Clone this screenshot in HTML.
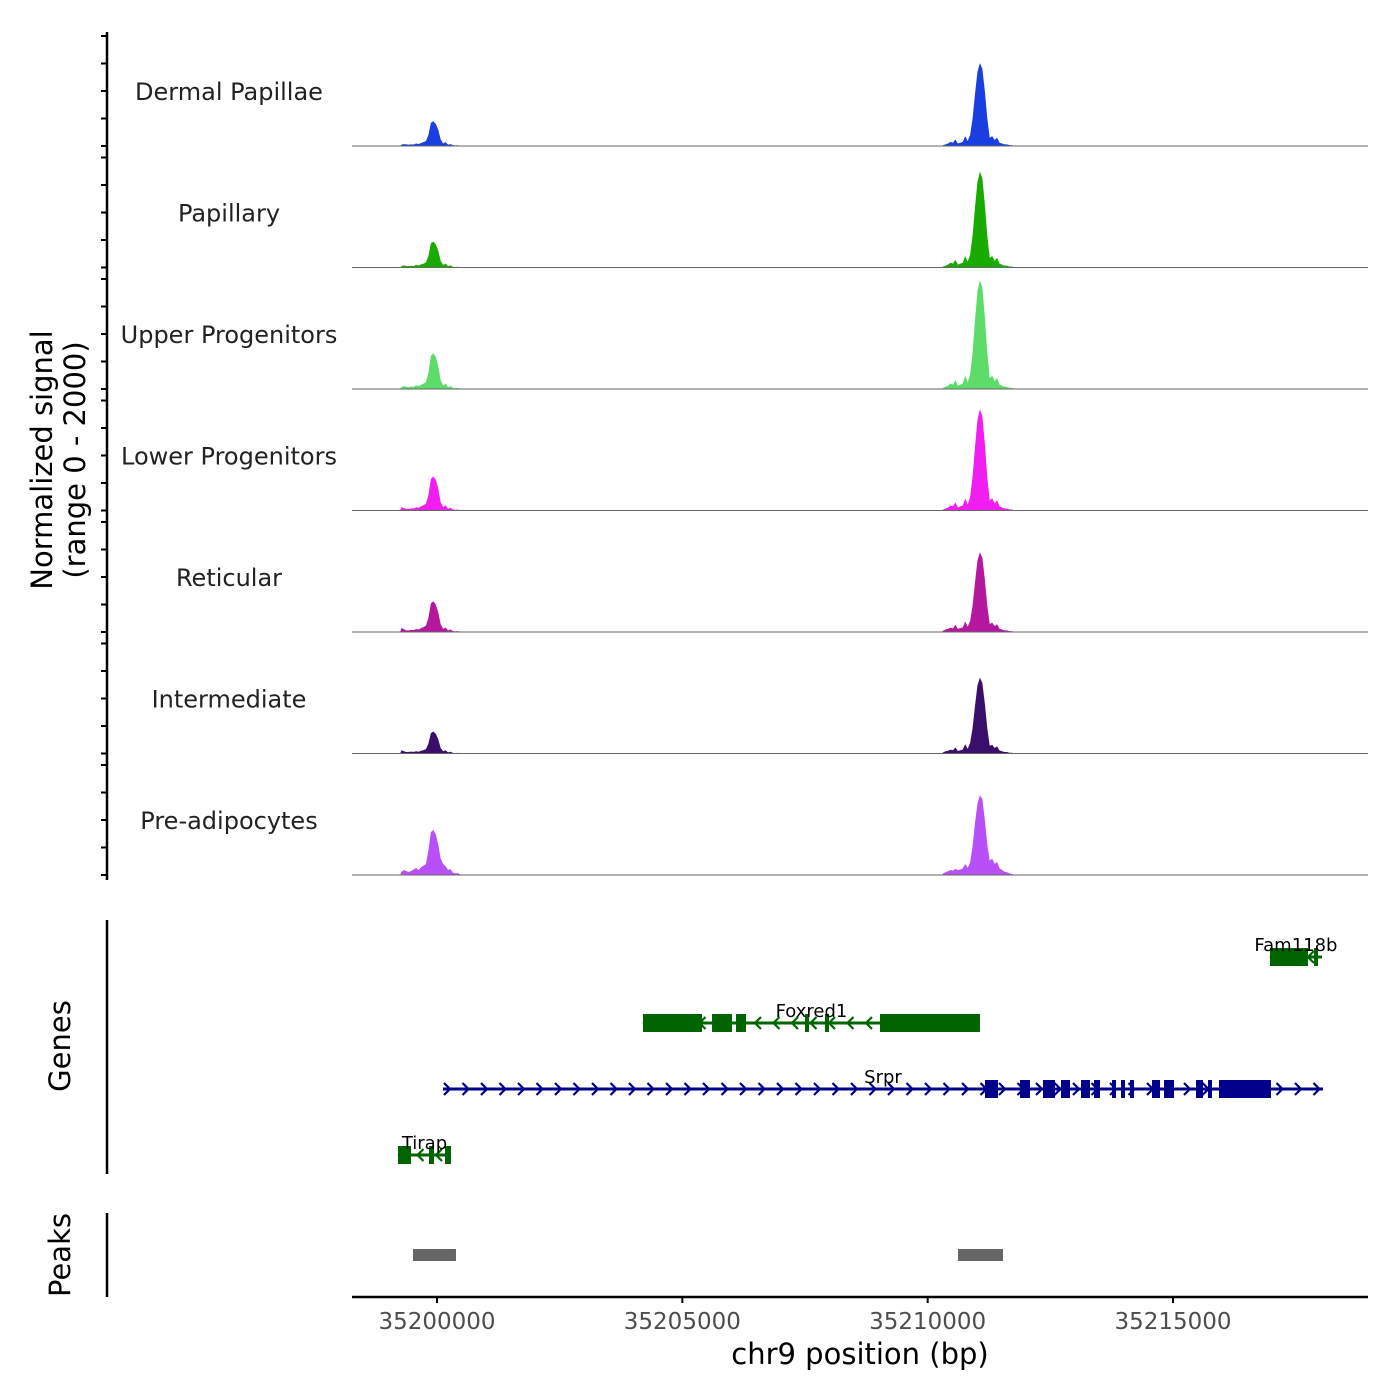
<!DOCTYPE html>
<html><head><meta charset="utf-8">
<style>
html,body{margin:0;padding:0;background:#fff;}
svg{display:block;font-family:"DejaVu Sans","Liberation Sans",sans-serif;}
</style></head>
<body>
<svg id="chart" width="1400" height="1400" viewBox="0 0 1400 1400">
<g id="tracks"></g>
<g id="genes"></g>
<g id="peaks"></g>
<g id="axes"></g>
</svg>
<script>
const trackNames = ["Dermal Papillae","Papillary","Upper Progenitors","Lower Progenitors","Reticular","Intermediate","Pre-adipocytes"];
const trackColors = ["#1a3fe0","#1aab00","#5ddc6a","#f01ef0","#b5179e","#3a0f6b","#b84ff7"];
const smallStart = 35199250, bigStart = 35210290, binSize = 50;
const smallVals = [
 [25,35,30,25,30,28,45,36,55,70,90,200,420,450,400,300,120,45,70,25,35,15,10,14,5],
 [24,38,28,24,33,28,47,38,56,70,94,210,440,470,420,310,120,47,70,24,38,14,9,14,5],
 [32,52,39,32,45,39,65,52,78,98,130,290,600,650,585,420,160,65,98,32,52,20,13,20,6],
 [60,45,30,28,40,36,60,50,75,95,125,280,570,620,560,400,150,62,95,30,50,19,12,18,6],
 [75,50,30,30,38,34,55,45,70,88,115,260,520,560,500,360,140,56,85,28,45,17,11,17,5],
 [60,40,28,30,35,30,40,32,50,62,80,180,370,400,360,260,100,40,60,20,32,12,8,12,4],
 [60,90,70,55,75,100,130,90,140,170,200,450,780,820,740,560,300,200,160,90,110,40,30,35,10]
];
const bigVals = [
 [15,30,45,75,60,120,45,60,75,180,90,200,500,950,1350,1510,1400,1000,500,150,180,110,150,60,45,30,30,15,15,0],
 [17,35,52,87,70,140,52,70,87,210,105,230,580,1100,1560,1745,1620,1150,580,175,210,120,175,70,52,35,35,17,17,0],
 [20,40,60,100,80,160,60,80,100,240,120,260,660,1250,1780,1980,1840,1310,660,200,240,140,200,80,60,40,40,20,20,0],
 [18,37,55,92,74,148,55,74,92,220,110,245,610,1160,1650,1840,1710,1220,610,185,220,130,185,74,55,37,37,18,18,0],
 [25,45,60,80,65,130,60,70,85,190,95,200,480,910,1300,1450,1350,960,480,145,170,110,140,60,45,30,30,15,15,0],
 [20,40,50,70,60,110,45,60,70,170,85,190,460,870,1240,1380,1280,910,460,140,160,100,130,55,40,28,28,14,14,0],
 [30,50,70,90,80,110,90,100,120,200,130,230,520,950,1300,1450,1380,1000,560,260,300,200,240,120,90,60,50,30,20,0]
];
const geneNames = ["Tirap","Foxred1","Srpr","Fam118b"];
const geneStrand = ["-","-","+","-"];
const geneRow = [3,1,2,0];
const geneColor = ["#006400","#006400","#00008b","#006400"];
const geneStart = [35199205,35204198,35200122,35216976];
const geneEnd = [35200285,35211066,35218057,35218036];
const geneExons = [
 [[35199205,35199470],[35199837,35199939],[35200163,35200285]],
 [[35204198,35205401],[35205605,35206012],[35206094,35206298],[35207500,35207561],[35207907,35207989],[35209028,35211066]],
 [[35211168,35211433],[35211882,35212085],[35212350,35212595],[35212717,35212901],[35213125,35213308],[35213390,35213512],[35213757,35213818],[35213940,35214021],[35214123,35214205],[35214572,35214735],[35214817,35215021],[35215469,35215611],[35215713,35215795],[35215937,35216997]],
 [[35216976,35217751],[35217874,35217915]]
];
const peakStart = [35199511,35210618];
const peakEnd = [35200387,35211535];
const xTicks = [35200000,35205000,35210000,35215000];

const NS="http://www.w3.org/2000/svg";
function mk(tag,attrs,parent){const e=document.createElementNS(NS,tag);for(const k in attrs)e.setAttribute(k,attrs[k]);parent.appendChild(e);return e;}
const xScale = bp => 437 + (bp-35200000)*0.049067;
const baseY = i => 146 + i*121.5;
const yScale = (v,i) => baseY(i) - v/2000*110;
const X0=352, X1=1368;

const tg=document.getElementById('tracks');
trackNames.forEach((name,i)=>{
  const g=mk('g',{},tg);
  
  
  const lab=mk('text',{x:229,y:baseY(i)-46,'text-anchor':'middle','font-size':24,fill:'#222'},g);
  lab.textContent=name;
  
  
  [[smallStart,smallVals[i]],[bigStart,bigVals[i]]].forEach(([st,vals])=>{
    let d='M'+xScale(st)+','+baseY(i);
    vals.forEach((v,j)=>{d+=' L'+xScale(st+j*binSize+25).toFixed(2)+','+yScale(v,i).toFixed(2);});
    d+=' L'+xScale(st+vals.length*binSize)+','+baseY(i)+' Z';
    const p=mk('path',{d:d,fill:trackColors[i]},g);
    
    
  });
  const bl=mk('line',{x1:X0,x2:X1,y1:baseY(i),y2:baseY(i),stroke:'#666','stroke-width':1},g);
  
  
});

const gg=document.getElementById('genes');
const rowY=[957,1023,1089,1155];
geneNames.forEach((name,i)=>{
  const g=mk('g',{},gg);
  
  
  const y=rowY[geneRow[i]], c=geneColor[i];
  const xs=xScale(geneStart[i]), xe=xScale(geneEnd[i]);
  mk('line',{x1:xs,x2:xe,y1:y,y2:y,stroke:c,'stroke-width':3},g);
  for(let x=xs+4;x<xe;x+=18.5){
    const dir=geneStrand[i]==='+'?1:-1;
    mk('polyline',{points:`${x-3*dir},${y-6} ${x+3*dir},${y} ${x-3*dir},${y+6}`,fill:'none',stroke:c,'stroke-width':2.2},g);
  }
  geneExons[i].forEach(ex=>{
    const r=mk('rect',{x:xScale(ex[0]),y:y-9,width:Math.max(4,xScale(ex[1])-xScale(ex[0])),height:18,fill:c},g);
    
    
  });
  const t=mk('text',{x:(xs+xe)/2,y:y-6,'text-anchor':'middle','font-size':18,fill:'#000'},g);
  t.textContent=name;
  
  
});

const pg=document.getElementById('peaks');
peakStart.forEach((s,i)=>{
  const r=mk('rect',{x:xScale(s),y:1249,width:xScale(peakEnd[i])-xScale(s),height:12,fill:'#666'},pg);
  
  
});

const ag=document.getElementById('axes');
const yl=mk('line',{x1:107,x2:107,y1:32,y2:880,stroke:'#000','stroke-width':2.5},ag);


for(let i=0;i<7;i++){for(let k=0;k<=4;k++){const y=baseY(i)-k*27.5;mk('line',{x1:101,x2:107,y1:y,y2:y,stroke:'#000','stroke-width':2},ag);}}
const yt=mk('text',{transform:'translate(52,460) rotate(-90)','text-anchor':'middle','font-size':29,fill:'#000'},ag);
yt.textContent='Normalized signal';


const yt2=mk('text',{transform:'translate(85,460) rotate(-90)','text-anchor':'middle','font-size':29,fill:'#000'},ag);
yt2.textContent='(range 0 - 2000)';


mk('line',{x1:107,x2:107,y1:920,y2:1174,stroke:'#000','stroke-width':2.5},ag);
const gt=mk('text',{transform:'translate(70,1046) rotate(-90)','text-anchor':'middle','font-size':29,fill:'#000'},ag);
gt.textContent='Genes';


mk('line',{x1:107,x2:107,y1:1213,y2:1297,stroke:'#000','stroke-width':2.5},ag);
const pt=mk('text',{transform:'translate(70,1255) rotate(-90)','text-anchor':'middle','font-size':29,fill:'#000'},ag);
pt.textContent='Peaks';


const xl=mk('line',{x1:X0,x2:X1,y1:1297,y2:1297,stroke:'#000','stroke-width':2.5},ag);


xTicks.forEach(t=>{
  const x=xScale(t);
  mk('line',{x1:x,x2:x,y1:1297,y2:1303,stroke:'#000','stroke-width':2},ag);
  const l=mk('text',{x:x,y:1329,'text-anchor':'middle','font-size':23,fill:'#4d4d4d'},ag);
  l.textContent=String(t);
  
  
});
const xt=mk('text',{x:860,y:1364,'text-anchor':'middle','font-size':29,fill:'#000'},ag);
xt.textContent='chr9 position (bp)';


</script>
</body></html>
